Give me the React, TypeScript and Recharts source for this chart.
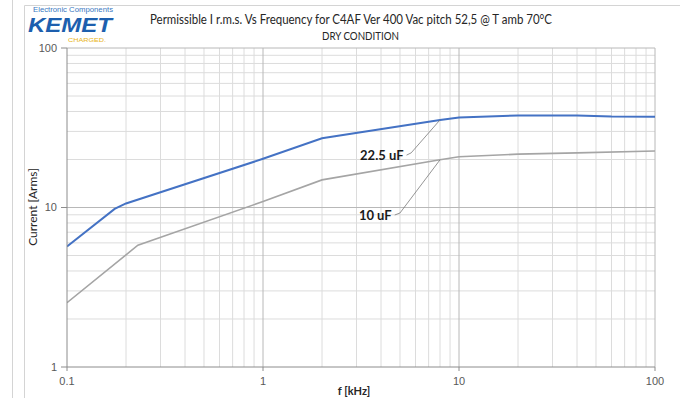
import React from 'react';
import {
  LineChart,
  Line,
  XAxis,
  YAxis,
  ReferenceLine,
  ReferenceDot,
  Label,
} from 'recharts';

// frequency in kHz, current in Arms
const freq22 = [0.1, 0.175, 0.2, 1, 2, 8, 10, 20, 40, 60, 100];
const irms22 = [5.7, 9.8, 10.6, 20.2, 27.2, 35.4, 36.7, 37.8, 37.8, 37.2, 37.0];
const freq10 = [0.1, 0.23, 1, 2, 8, 10, 20, 40, 100];
const irms10 = [2.53, 5.8, 10.9, 14.9, 19.9, 20.8, 21.6, 22.0, 22.6];

const xTicks = [0.1, 1, 10, 100];
const yTicks = [1, 10, 100];
const xMinor = [0.2, 0.3, 0.4, 0.5, 0.6, 0.7, 0.8, 0.9, 2, 3, 4, 5, 6, 7, 8, 9, 20, 30, 40, 50, 60, 70, 80, 90];
const yMinor = [2, 3, 4, 5, 6, 7, 8, 9, 20, 30, 40, 50, 60, 70, 80, 90];
const xMajor = [1, 10, 100];
const yMajor = [10, 100];

const title = 'Permissible I r.m.s. Vs Frequency  for C4AF Ver 400 Vac pitch 52,5 @ T amb 70°C';
const subtitle = 'DRY CONDITION';

// annotation leaders: label anchor, elbow, target on the curve
const lead22 = [{ x: 5.4, y: 21.3 }, { x: 5.7, y: 22 }, { x: 8, y: 35.4 }];
const lead10 = [{ x: 4.7, y: 8.97 }, { x: 5.0, y: 9.24 }, { x: 8, y: 19.9 }];

const data22 = freq22.map((f, k) => ({ f, i: irms22[k] }));
const data10 = freq10.map((f, k) => ({ f, i: irms10[k] }));

const minorGrid = '#dcdcdc';
const majorGrid = '#b8b8b8';
const axisGrey = '#8c8c8c';
const tickFont = { fill: '#595959', fontSize: 11, fontFamily: 'Liberation Sans, Arial, sans-serif' };

const fmt = (v: number) => (v < 1 ? String(v) : String(Math.round(v)));

const Overlay = () => (
  <svg
    width={680}
    height={398}
    style={{ position: 'absolute', left: 0, top: 0, pointerEvents: 'none' }}
  >
    {/* frame */}
    <line x1={12.5} y1={0} x2={12.5} y2={398} stroke="#d4d4d4" />
    <line x1={24.5} y1={5.5} x2={24.5} y2={398} stroke="#d4d4d4" />
    <line x1={24.5} y1={5.5} x2={680} y2={5.5} stroke="#d4d4d4" />

    {/* logo */}
    <text x={33} y={11.5} fontSize={6.5} fill="#3a78c2" fontFamily="Liberation Sans, Arial" textLength={80} lengthAdjust="spacingAndGlyphs">
      Electronic Components
    </text>
    <text x={28} y={32} fontSize={20} fontWeight={700} fontStyle="italic" fill="#1d5fae" fontFamily="Liberation Sans, Arial" textLength={84} lengthAdjust="spacingAndGlyphs">
      KEMET
    </text>
    <text x={68} y={41.5} fontSize={5.5} fill="#e8b420" fontFamily="Liberation Sans, Arial" textLength={38} lengthAdjust="spacingAndGlyphs">
      CHARGED.
    </text>

    {/* titles */}
    <text x={150} y={24} fontSize={12.5} fill="#262626" fontFamily="Lato, Open Sans, sans-serif" textLength={402} lengthAdjust="spacingAndGlyphs">
      {title}
    </text>
    <text x={360.5} y={40} fontSize={12} fill="#262626" fontFamily="Lato, Open Sans, sans-serif" textAnchor="middle" textLength={77} lengthAdjust="spacingAndGlyphs">
      {subtitle}
    </text>

    {/* axis titles */}
    <text
      x={0}
      y={0}
      transform="translate(37,207) rotate(-90)"
      fontSize={12}
      fill="#262626"
      fontFamily="Lato, Open Sans, sans-serif"
      textAnchor="middle"
    >
      Current [Arms]
    </text>
    <text x={354} y={395} fontSize={11} fontWeight={700} fill="#262626" fontFamily="Lato, Open Sans, sans-serif" textAnchor="middle">
      f [kHz]
    </text>
  </svg>
);

export default function App() {
  return (
    <div style={{ position: 'absolute', left: 0, top: 0, width: 680, height: 398, background: '#fff' }}>
      <LineChart width={680} height={398} margin={{ top: 48, right: 25, left: 47, bottom: 11 }}>
        <XAxis
          type="number"
          dataKey="f"
          scale="log"
          domain={[0.1, 100]}
          ticks={xTicks}
          allowDataOverflow
          height={20}
          stroke={axisGrey}
          tickSize={4}
          tickMargin={6}
          tick={tickFont}
          tickFormatter={fmt}
        />
        <YAxis
          type="number"
          dataKey="i"
          scale="log"
          domain={[1, 100]}
          ticks={yTicks}
          allowDataOverflow
          width={20}
          stroke={axisGrey}
          tickSize={6}
          tickMargin={4}
          tick={tickFont}
          tickFormatter={fmt}
        />

        {xMinor.map((v) => (
          <ReferenceLine key={'xm' + v} x={v} stroke={minorGrid} strokeWidth={1} />
        ))}
        {yMinor.map((v) => (
          <ReferenceLine key={'ym' + v} y={v} stroke={minorGrid} strokeWidth={1} />
        ))}
        {xMajor.map((v) => (
          <ReferenceLine key={'xM' + v} x={v} stroke={majorGrid} strokeWidth={1} />
        ))}
        {yMajor.map((v) => (
          <ReferenceLine key={'yM' + v} y={v} stroke={majorGrid} strokeWidth={1} />
        ))}

        <Line
          data={data10}
          dataKey="i"
          type="linear"
          stroke="#a5a5a5"
          strokeWidth={1.6}
          dot={false}
          isAnimationActive={false}
        />
        <Line
          data={data22}
          dataKey="i"
          type="linear"
          stroke="#4472c4"
          strokeWidth={2}
          dot={false}
          isAnimationActive={false}
        />

        <ReferenceLine segment={[lead22[0], lead22[1]]} stroke="#7a7a7a" strokeWidth={0.8} />
        <ReferenceLine segment={[lead22[1], lead22[2]]} stroke="#7a7a7a" strokeWidth={0.8} />
        <ReferenceLine segment={[lead10[0], lead10[1]]} stroke="#7a7a7a" strokeWidth={0.8} />
        <ReferenceLine segment={[lead10[1], lead10[2]]} stroke="#7a7a7a" strokeWidth={0.8} />

        <ReferenceDot x={lead22[0].x} y={lead22[0].y} r={0} stroke="none" fill="none">
          <Label value="22.5 uF" position="left" offset={3} fill="#1a1a1a" fontSize={13} fontWeight={700} fontFamily="Lato, Open Sans, sans-serif" />
        </ReferenceDot>
        <ReferenceDot x={lead10[0].x} y={lead10[0].y} r={0} stroke="none" fill="none">
          <Label value="10 uF" position="left" offset={3} fill="#1a1a1a" fontSize={13} fontWeight={700} fontFamily="Lato, Open Sans, sans-serif" />
        </ReferenceDot>
      </LineChart>
      <Overlay />
    </div>
  );
}
